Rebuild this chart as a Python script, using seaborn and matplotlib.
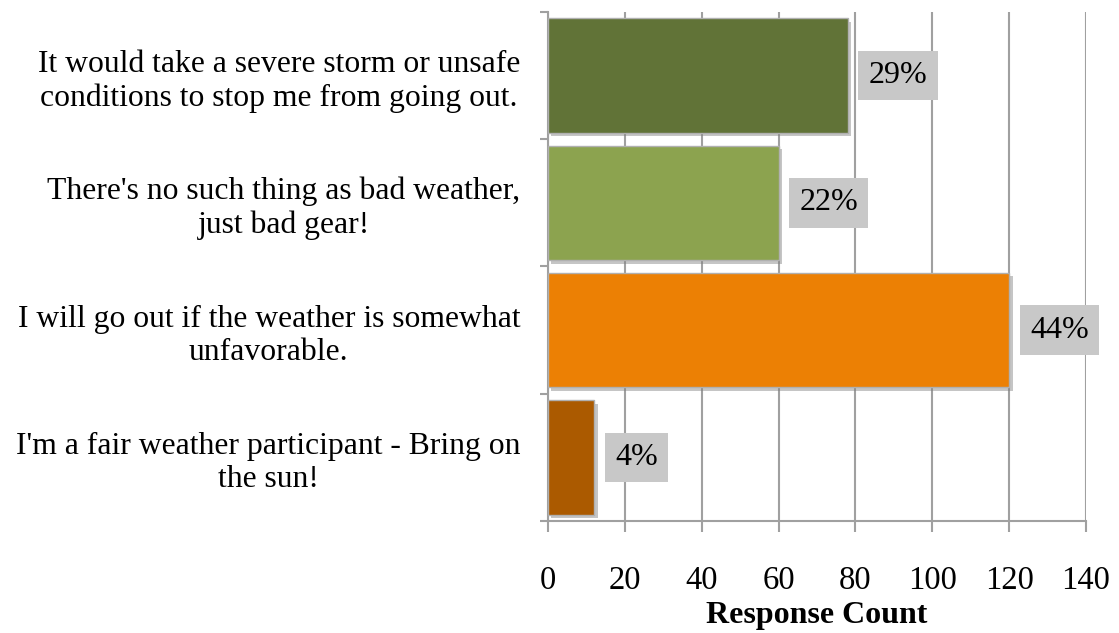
import matplotlib
matplotlib.use("Agg")
import matplotlib.pyplot as plt
import matplotlib.patheffects as pe
import seaborn as sns
import pandas as pd

categories = [
    "It would take a severe storm or unsafe\nconditions to stop me from going out.",
    "There's no such thing as bad weather,\njust bad gear!",
    "I will go out if the weather is somewhat\nunfavorable.",
    "I'm a fair weather participant - Bring on\nthe sun!",
]
counts = [78, 60, 120, 12]
percent_labels = ["29%", "22%", "44%", "4%"]
bar_colors = ["#617337", "#8ca34f", "#ec8004", "#ab5a00"]
x_ticks = [0, 20, 40, 60, 80, 100, 120, 140]

sns.set_theme(style="white")
plt.rcParams["font.family"] = ["Liberation Serif", "DejaVu Serif"]
plt.rcParams["text.color"] = "black"
plt.rcParams["xtick.color"] = "black"
plt.rcParams["ytick.color"] = "black"
plt.rcParams["axes.labelcolor"] = "black"

df = pd.DataFrame({"answer": categories, "count": counts})

fig = plt.figure(figsize=(11.19, 6.33), dpi=100)
ax = fig.add_axes([0.4897, 0.177, 0.4808, 0.804])

sns.barplot(data=df, y="answer", x="count", hue="answer", palette=bar_colors,
            saturation=1, legend=False, orient="h", width=0.9, ax=ax, zorder=3,
            edgecolor="#b0b0b0", linewidth=1.0)

shadow = [pe.SimplePatchShadow(offset=(2.5, -2.5), shadow_rgbFace="#808080", alpha=0.45),
          pe.Normal()]
for bar in ax.patches:
    bar.set_path_effects(shadow)

grid_color = "#a0a0a0"
ax.set_xlim(0, 140)
ax.set_ylim(3.5, -0.5)
ax.set_xticks(x_ticks)
ax.set_xticklabels([str(t) for t in x_ticks])
ax.xaxis.grid(True, color=grid_color, linewidth=1.5, zorder=0)
ax.set_axisbelow(True)

# category boundaries carry the tick marks, labels sit at the centres
ax.set_yticks([-0.5, 0.5, 1.5, 2.5, 3.5])
ax.set_yticklabels([])
ax.set_yticks(range(len(categories)), minor=True)
ax.set_yticklabels(categories, minor=True, multialignment="center", fontsize=22.8)
ax.tick_params(axis="y", which="minor", length=0, pad=20, colors="black")
ax.tick_params(axis="y", which="major", length=6, width=1.5, color=grid_color, left=True)
ax.tick_params(axis="x", length=8, width=1.5, color=grid_color, bottom=True,
               labelsize=23.5, pad=24, labelcolor="black")

for side in ["top", "right"]:
    ax.spines[side].set_visible(False)
for side in ["left", "bottom"]:
    ax.spines[side].set_color(grid_color)
    ax.spines[side].set_linewidth(1.5)

ax.set_ylabel("")
ax.set_xlabel("Response Count", fontsize=23, fontweight="bold", labelpad=4,
              color="black")

for i, (v, lab) in enumerate(zip(counts, percent_labels)):
    ax.annotate(lab, xy=(v, i), xytext=(15, 0), textcoords="offset points",
                ha="left", va="center", fontsize=23, color="black", zorder=5,
                bbox=dict(boxstyle="square,pad=0.32", facecolor="#c8c8c8",
                          edgecolor="none"))

fig.savefig("out.png", dpi=100)
